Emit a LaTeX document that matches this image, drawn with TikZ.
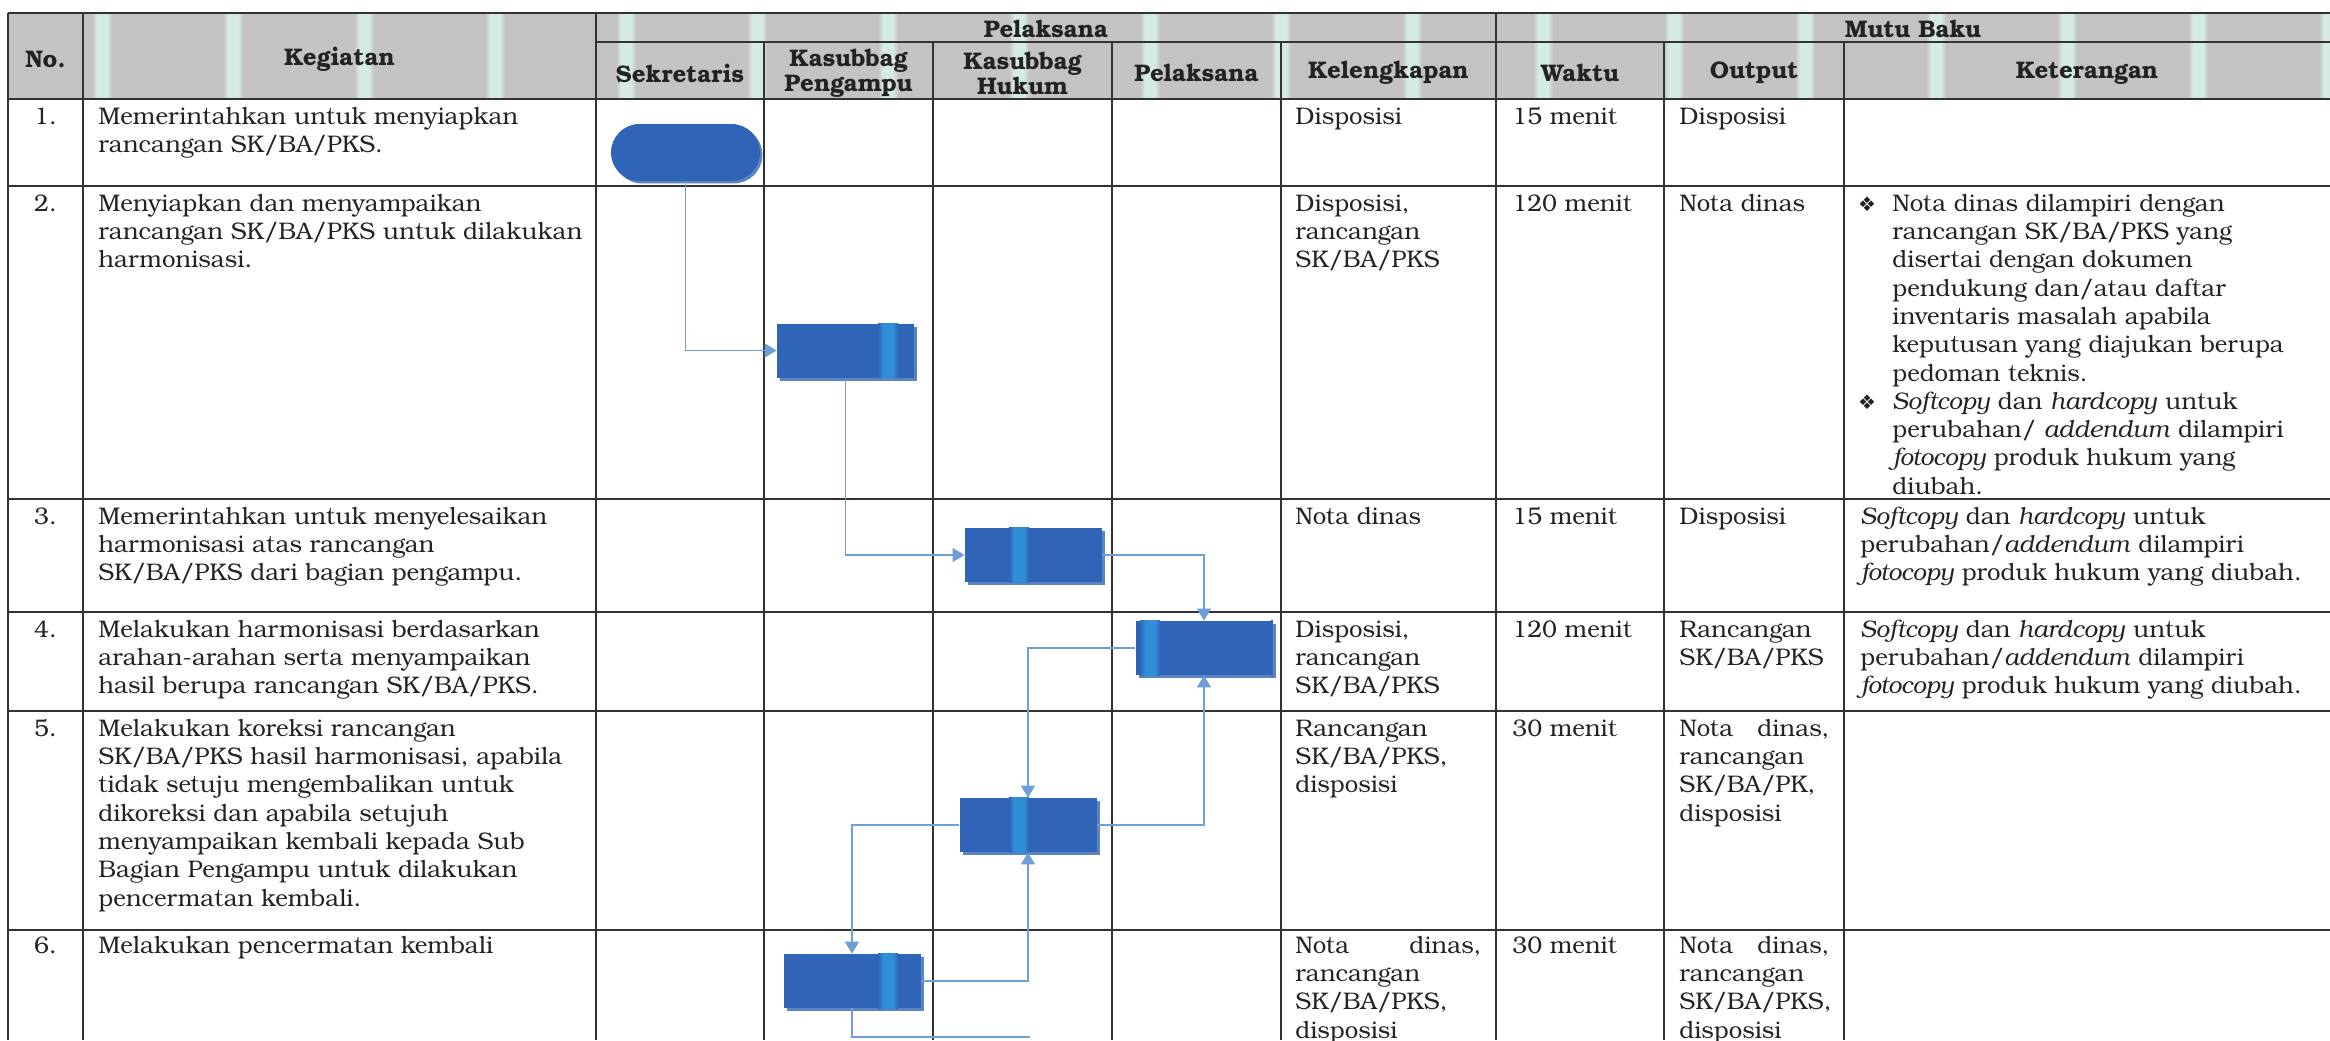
\documentclass[tikz,border=0pt]{standalone}
\usepackage{fontspec}
\setmainfont{TeX Gyre Bonum}
\newfontfamily\symfont{DejaVu Sans}
\usetikzlibrary{arrows.meta,shapes.misc,shadows}
\definecolor{hdrgray}{RGB}{196,194,196}
\definecolor{hdrmint}{RGB}{214,234,228}
\definecolor{gridline}{RGB}{50,50,50}
\definecolor{boxblue}{RGB}{48,100,182}
\definecolor{boxstripe}{RGB}{48,142,214}
\definecolor{boxshadow}{RGB}{92,132,196}
\definecolor{connblue}{RGB}{112,158,214}
\definecolor{txt}{RGB}{35,35,35}
\newcommand{\bodyfont}{\fontsize{12}{14.15}\selectfont}
\newcommand{\hdrfont}{\fontsize{12}{12.5}\selectfont\bfseries}
\newcommand{\boxstripes}[2]{%
  \begin{scope}
    \clip[rounded corners=#2] (#1.south west) rectangle (#1.north east);
    \foreach \k in {0,...,17}{
      \fill[left color=boxblue,right color=boxstripe,middle color=boxstripe]
        ({102+131*\k-10},0) rectangle ({102+131*\k},1040);
      \fill[left color=boxstripe,right color=boxblue,middle color=boxstripe]
        ({102+131*\k},0) rectangle ({102+131*\k+10},1040);
    }
  \end{scope}}
\begin{document}
\begin{tikzpicture}[x=0.5pt,y=-0.5pt,
  grid/.style={draw=gridline,line width=1.1pt},
  hdr/.style={font=\hdrfont,align=center,inner sep=0pt,text=txt},
  cell/.style={font=\bodyfont,align=left,anchor=north west,inner sep=0pt,text=txt},
  numcell/.style={font=\bodyfont,anchor=north,inner sep=0pt,text=txt},
  proc/.style={rectangle,fill=boxblue,minimum width=68.5pt,minimum height=27pt,inner sep=0pt,
    general shadow={fill=boxshadow,shadow xshift=1.5pt,shadow yshift=-1.5pt}},
  term/.style={rounded rectangle,fill=boxblue,minimum width=74.5pt,minimum height=28.5pt,inner sep=0pt,
    general shadow={fill=boxshadow,shadow xshift=1.2pt,shadow yshift=-1.2pt}},
  flow/.style={draw=connblue,line width=0.8pt,-{Triangle[length=6pt,width=7pt]}},
  bul/.style={font=\symfont\fontsize{10}{10}\selectfont,inner sep=0pt,text=txt}
]
\useasboundingbox (0,0) rectangle (2330,1040);
\fill[white] (0,0) rectangle (2330,1040);
% header background with scan streaks
\fill[hdrgray] (8,13) rectangle (2330,99);
\begin{scope}
  \clip (8,13) rectangle (2330,99);
  \foreach \k in {0,...,17}{
    \fill[left color=hdrgray,right color=hdrmint,middle color=hdrmint]
      ({102+131*\k-10},13) rectangle ({102+131*\k},99);
    \fill[left color=hdrmint,right color=hdrgray,middle color=hdrmint]
      ({102+131*\k},13) rectangle ({102+131*\k+10},99);
  }
\end{scope}
% grid
\draw[grid] (8,13) -- (2330,13);
\draw[grid] (596,42) -- (2330,42);
\foreach \y in {99,186,499,612,711,930}{\draw[grid] (8,\y) -- (2330,\y);}
\foreach \x in {8,83,596,1496}{\draw[grid] (\x,13) -- (\x,1040);}
\foreach \x in {764,933,1112,1281,1664,1844}{\draw[grid] (\x,42) -- (\x,1040);}
% header texts
\node[hdr] (hNo) at (45.5,59) {No.};
\node[hdr] (hKeg) at (339.5,59) {Kegiatan};
\node[hdr] (hPel) at (1046,29) {Pelaksana};
\node[hdr] (hMutu) at (1913,29) {Mutu Baku};
\node[hdr] (hSek) at (680,73) {Sekretaris};
\node[hdr] (hPeng) at (848.5,73) {Kasubbag\\Pengampu};
\node[hdr] (hHuk) at (1022.5,73) {Kasubbag\\Hukum};
\node[hdr] (hPls) at (1196.5,73) {Pelaksana};
\node[hdr] (hKel) at (1388.5,73) {Kelengkapan};
\node[hdr] (hWak) at (1580,73) {Waktu};
\node[hdr] (hOut) at (1754,73) {Output};
\node[hdr] (hKet) at (2087,73) {Keterangan};
% row numbers
\node[numcell] (n1) at (45.5,104) {\strut 1.};
\node[numcell] (n2) at (45.5,191) {\strut 2.};
\node[numcell] (n3) at (45.5,504) {\strut 3.};
\node[numcell] (n4) at (45.5,617) {\strut 4.};
\node[numcell] (n5) at (45.5,716) {\strut 5.};
\node[numcell] (n6) at (45.5,933) {\strut 6.};
% kegiatan
\node[cell] (k1) at (98,104) {\strut Memerintahkan untuk menyiapkan\\rancangan SK/BA/PKS.};
\node[cell] (k2) at (98,191) {\strut Menyiapkan dan menyampaikan\\rancangan SK/BA/PKS untuk dilakukan\\harmonisasi.};
\node[cell] (k3) at (98,504) {\strut Memerintahkan untuk menyelesaikan\\harmonisasi atas rancangan\\SK/BA/PKS dari bagian pengampu.};
\node[cell] (k4) at (98,617) {\strut Melakukan harmonisasi berdasarkan\\arahan-arahan serta menyampaikan\\hasil berupa rancangan SK/BA/PKS.};
\node[cell] (k5) at (98,716) {\strut Melakukan koreksi rancangan\\SK/BA/PKS hasil harmonisasi, apabila\\tidak setuju mengembalikan untuk\\dikoreksi dan apabila setujuh\\menyampaikan kembali kepada Sub\\Bagian Pengampu untuk dilakukan\\pencermatan kembali.};
\node[cell] (k6) at (98,933) {\strut Melakukan pencermatan kembali};
% kelengkapan
\node[cell] (kl1) at (1295,104) {\strut Disposisi};
\node[cell] (kl2) at (1295,191) {\strut Disposisi,\\rancangan\\SK/BA/PKS};
\node[cell] (kl3) at (1295,504) {\strut Nota dinas};
\node[cell] (kl4) at (1295,617) {\strut Disposisi,\\rancangan\\SK/BA/PKS};
\node[cell] (kl5) at (1295,716) {\strut Rancangan\\SK/BA/PKS,\\disposisi};
\node[cell] (kl6) at (1295,933) {\strut\hbox to 93pt{Nota\hfill dinas,}\\rancangan\\SK/BA/PKS,\\disposisi};
% waktu
\node[cell] (w1) at (1512,104) {\strut 15 menit};
\node[cell] (w2) at (1512,191) {\strut 120 menit};
\node[cell] (w3) at (1512,504) {\strut 15 menit};
\node[cell] (w4) at (1512,617) {\strut 120 menit};
\node[cell] (w5) at (1512,716) {\strut 30 menit};
\node[cell] (w6) at (1512,933) {\strut 30 menit};
% output
\node[cell] (o1) at (1679,104) {\strut Disposisi};
\node[cell] (o2) at (1679,191) {\strut Nota dinas};
\node[cell] (o3) at (1679,504) {\strut Disposisi};
\node[cell] (o4) at (1679,617) {\strut Rancangan\\SK/BA/PKS};
\node[cell] (o5) at (1679,716) {\strut\hbox to 75pt{Nota\hfill dinas,}\\rancangan\\SK/BA/PK,\\disposisi};
\node[cell] (o6) at (1679,933) {\strut\hbox to 75pt{Nota\hfill dinas,}\\rancangan\\SK/BA/PKS,\\disposisi};
% keterangan
\node[bul] (bul1) at (1867,204) {❖};
\node[bul] (bul2) at (1867,402) {❖};
\node[cell] (ket2) at (1892,191) {\strut Nota dinas dilampiri dengan\\rancangan SK/BA/PKS yang\\disertai dengan dokumen\\pendukung dan/atau daftar\\inventaris masalah apabila\\keputusan yang diajukan berupa\\pedoman teknis.\\\textit{Softcopy} dan \textit{hardcopy} untuk\\perubahan/ \textit{addendum} dilampiri\\\textit{fotocopy} produk hukum yang\\diubah.};
\node[cell] (ket3) at (1860,504) {\strut\textit{Softcopy} dan \textit{hardcopy} untuk\\perubahan/\textit{addendum} dilampiri\\\textit{fotocopy} produk hukum yang diubah.};
\node[cell] (ket4) at (1860,617) {\strut\textit{Softcopy} dan \textit{hardcopy} untuk\\perubahan/\textit{addendum} dilampiri\\\textit{fotocopy} produk hukum yang diubah.};
% flow shapes
\node[term] (t1) at (685.5,152.5) {};
\node[proc] (b2) at (845.5,350.5) {};
\node[proc] (b3) at (1033.5,555) {};
\node[proc] (b4) at (1204,648) {};
\node[proc] (b5) at (1028,825) {};
\node[proc] (b6) at (852,981) {};
\boxstripes{t1}{14.25pt}
\foreach \b in {b2,b3,b4,b5,b6}{\boxstripes{\b}{0pt}}
% connectors
\draw[flow] (t1.south) |- (b2.west);
\draw[flow] (b2.south) |- (b3.west);
\draw[flow] (b3.east) -| (b4.north);
\draw[flow] (b4.west) -| (b5.north);
\draw[flow] (b5.east) -| (b4.south);
\draw[flow] (b5.west) -| (b6.north);
\draw[flow] (b6.east) -| (b5.south);
\coordinate (cut) at (1030,1037);
\draw[draw=connblue,line width=0.8pt] (b6.south) |- (cut);
\end{tikzpicture}
\end{document}
